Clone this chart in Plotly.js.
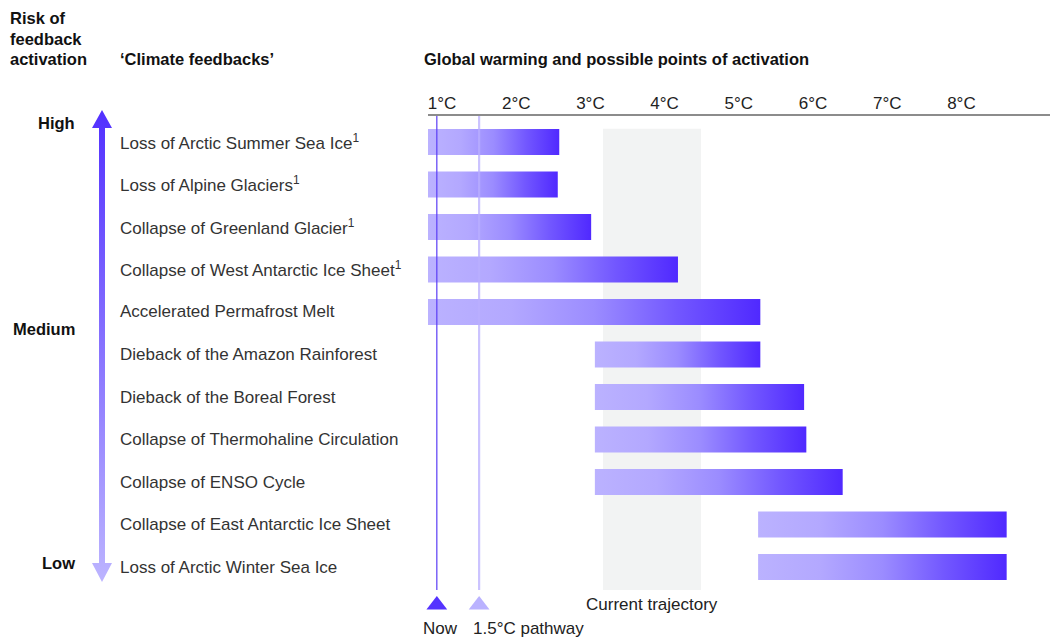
<!DOCTYPE html>
<html><head><meta charset="utf-8">
<script src="https://cdn.plot.ly/plotly-3.0.1.min.js"></script>
<style>html,body{margin:0;padding:0;background:#fff}#chart{width:1050px;height:637px}</style>
</head><body><div id="chart"></div>
<script>
// ---- data ----
const feedbacks = [
  'Loss of Arctic Summer Sea Ice<sup>1</sup>',
  'Loss of Alpine Glaciers<sup>1</sup>',
  'Collapse of Greenland Glacier<sup>1</sup>',
  'Collapse of West Antarctic Ice Sheet<sup>1</sup>',
  'Accelerated Permafrost Melt',
  'Dieback of the Amazon Rainforest',
  'Dieback of the Boreal Forest',
  'Collapse of Thermohaline Circulation',
  'Collapse of ENSO Cycle',
  'Collapse of East Antarctic Ice Sheet',
  'Loss of Arctic Winter Sea Ice'
];
const startC = [0.81, 0.81, 0.81, 0.81, 0.81, 3.06, 3.06, 3.06, 3.06, 5.26, 5.26];
const endC   = [2.58, 2.56, 3.01, 4.18, 5.29, 5.29, 5.88, 5.91, 6.40, 8.61, 8.61];
const tickVals = [1, 2, 3, 4, 5, 6, 7, 8];
const tickText = ['1°C', '2°C', '3°C', '4°C', '5°C', '6°C', '7°C', '8°C'];
const nowC = 0.93;
const pathwayC = 1.5;
const trajectory = [3.17, 4.49];
const riskLevels = ['High', 'Medium', 'Low'];

// ---- layout helpers (pixel geometry of the page) ----
const W = 1050, H = 637;
const FONT = 'Arial, "Liberation Sans", Helvetica, sans-serif';
const px = v => v / W;
const py = v => 1 - v / H;
const half = 0.305;
const barScale = [[0, '#bbb2ff'], [0.25, '#b3a8ff'], [0.5, '#9b8cff'], [0.75, '#7257ff'], [1, '#5029ff']];

const traces = [];
feedbacks.forEach((f, i) => {
  const s = startC[i], e = endC[i];
  traces.push({
    type: 'scatter', mode: 'lines', xaxis: 'x', yaxis: 'y',
    x: [s, e, e, s, s], y: [i - half, i - half, i + half, i + half, i - half],
    fill: 'toself', fillgradient: {type: 'horizontal', colorscale: barScale},
    line: {width: 0}, hoverinfo: 'skip', showlegend: false
  });
});
// marker triangles for Now and 1.5°C pathway (x in °C, y in page pixels)
traces.push({
  type: 'scatter', mode: 'markers', xaxis: 'x', yaxis: 'y2',
  x: [nowC, pathwayC], y: [605, 605], cliponaxis: false,
  marker: {symbol: 'triangle-up', size: 18, color: ['#5533ff', '#bab2ff'], line: {width: 0}},
  hoverinfo: 'skip', showlegend: false
});
// risk arrow (decoration, in page pixels)
traces.push({
  type: 'scatter', mode: 'lines', xaxis: 'x2', yaxis: 'y2',
  x: [102, 112, 105, 105, 112, 102, 92, 99, 99, 92, 102],
  y: [110, 128, 128, 563, 563, 582, 563, 563, 128, 128, 110],
  fill: 'toself', fillgradient: {type: 'vertical', start: 110, stop: 582, colorscale: [[0, '#5230ff'], [1, '#bcb4ff']]},
  line: {width: 0}, hoverinfo: 'skip', showlegend: false
});

const annotations = [];
feedbacks.forEach((f, i) => {
  annotations.push({xref: 'paper', yref: 'y', x: px(118), y: i, xanchor: 'left', yanchor: 'middle',
    text: f, showarrow: false, font: {family: FONT, size: 17, color: '#333'}});
});
const bold = (t, x, y, xa, ya) => ({xref: 'paper', yref: 'paper', x: px(x), y: py(y), xanchor: xa, yanchor: ya,
  text: '<b>' + t + '</b>', showarrow: false, align: 'left', font: {family: FONT, size: 16.5, color: '#111'}});
annotations.push(bold('Risk of', 8, 18, 'left', 'middle'));
annotations.push(bold('feedback', 8, 38.5, 'left', 'middle'));
annotations.push(bold('activation', 8, 59, 'left', 'middle'));
annotations.push(bold('‘Climate feedbacks’', 118, 59, 'left', 'middle'));
annotations.push(bold('Global warming and possible points of activation', 422, 59, 'left', 'middle'));
annotations.push(bold(riskLevels[0], 77, 123, 'right', 'middle'));
annotations.push(bold(riskLevels[1], 77, 329, 'right', 'middle'));
annotations.push(bold(riskLevels[2], 77, 563, 'right', 'middle'));
const note = (t, x, y, xa, xs) => ({xref: 'x', yref: 'paper', x: x, y: py(y), xanchor: xa, yanchor: 'middle', xshift: xs || 0,
  text: t, showarrow: false, font: {family: FONT, size: 17, color: '#222'}});
annotations.push(note('Now', nowC, 628, 'center', 4));
annotations.push(note('1.5°C pathway', pathwayC, 628, 'left', -8));
annotations.push(note('Current trajectory', (trajectory[0] + trajectory[1]) / 2, 604, 'center'));

const shapes = [
  {type: 'rect', xref: 'x', yref: 'y', x0: trajectory[0], x1: trajectory[1], y0: -0.31, y1: 10.54,
   fillcolor: '#f2f3f3', line: {width: 0}, layer: 'below'},
  {type: 'line', xref: 'x', yref: 'paper', x0: nowC, x1: nowC, y0: py(590), y1: py(116),
   line: {color: '#5a3cf5', width: 1.2}, layer: 'above'},
  {type: 'line', xref: 'x', yref: 'paper', x0: pathwayC, x1: pathwayC, y0: py(590), y1: py(116),
   line: {color: 'rgba(185,175,255,0.75)', width: 2.2}, layer: 'above'}
];

const layout = {
  width: W, height: H, margin: {l: 0, r: 0, t: 0, b: 0},
  paper_bgcolor: '#fff', plot_bgcolor: 'rgba(0,0,0,0)', showlegend: false,
  font: {family: FONT},
  xaxis: {domain: [px(428), 1], range: [0.811, 9.194], side: 'top', anchor: 'y',
    tickvals: tickVals, ticktext: tickText, tickfont: {family: FONT, size: 17, color: '#222'},
    ticks: '', ticklabelstandoff: -2, showline: true, linecolor: '#8c8c8c', linewidth: 2,
    showgrid: false, zeroline: false, fixedrange: true},
  yaxis: {domain: [py(590), py(116)], range: [10.54, -0.61], anchor: 'x',
    showticklabels: false, showgrid: false, zeroline: false, showline: false, ticks: '', fixedrange: true},
  xaxis2: {domain: [0, 1], range: [0, W], anchor: 'y2', visible: false, fixedrange: true},
  yaxis2: {domain: [0, 1], range: [H, 0], anchor: 'x2', visible: false, fixedrange: true},
  shapes: shapes, annotations: annotations
};
Plotly.newPlot('chart', traces, layout, {displayModeBar: false, staticPlot: true});
</script></body></html>
